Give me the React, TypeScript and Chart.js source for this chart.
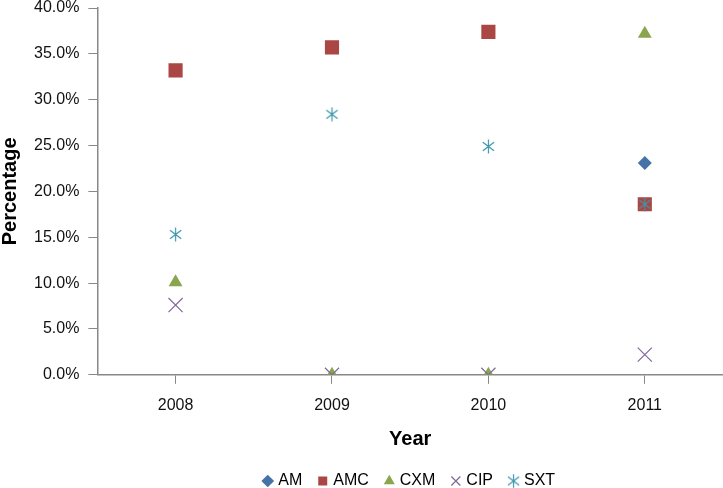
import React, { useEffect, useRef } from "react";
import { Chart, registerables } from "chart.js";

Chart.register(...registerables);

const years = ["2008", "2009", "2010", "2011"];
const seriesNames = ["AM", "AMC", "CXM", "CIP", "SXT"];
const am = [null, null, null, 23.1];
const amc = [33.2, 35.7, 37.4, 18.6];
const cxm = [10.1, 0, 0, 37.2];
const cip = [7.6, 0, 0, 2.2];
const sxt = [15.3, 28.4, 24.9, 18.6];
const yTicks = [0, 5, 10, 15, 20, 25, 30, 35, 40];

const colors = ["#4572A7", "#AA4643", "#89A54E", "#80699B", "#3D96AE"];
const styles = ["rectRot", "rect", "triangle", "crossRot", "asterisk"];
const radii = [7, 10, 8, 10, 7];

function makeAsterisk(color: string, size: number) {
  const c = document.createElement("canvas");
  c.width = size;
  c.height = size;
  const ctx = c.getContext("2d")!;
  const m = size / 2;
  const r = size / 2 - 0.5;
  ctx.strokeStyle = color;
  ctx.lineWidth = 1.2;
  ctx.beginPath();
  ctx.moveTo(m, m - r);
  ctx.lineTo(m, m + r);
  const d = r * 0.8;
  ctx.moveTo(m - d, m - d * 0.75);
  ctx.lineTo(m + d, m + d * 0.75);
  ctx.moveTo(m - d, m + d * 0.75);
  ctx.lineTo(m + d, m - d * 0.75);
  ctx.stroke();
  return c;
}

export default function App() {
  const ref = useRef<HTMLCanvasElement>(null);
  useEffect(() => {
    document.body.style.margin = "0";
    const values = [am, amc, cxm, cip, sxt];
    const font = "'Liberation Sans', Arial, sans-serif";
    const starBig = makeAsterisk(colors[4], 15);
    const chart = new Chart(ref.current!, {
      type: "line",
      data: {
        labels: years,
        datasets: seriesNames.map((name, i) => ({
          label: name,
          data: values[i],
          showLine: false,
          pointStyle: (styles[i] === "asterisk" ? starBig : styles[i]) as any,
          pointRadius: radii[i],
          pointHoverRadius: radii[i],
          pointBackgroundColor: colors[i],
          pointBorderColor: colors[i],
          backgroundColor: colors[i],
          borderColor: colors[i],
          pointBorderWidth: i >= 3 ? 1.2 : 0,
          borderWidth: i >= 3 ? 1.2 : 0,
          order: 5 - i,
        })),
      },
      options: {
        responsive: false,
        animation: false,
        devicePixelRatio: 1,
        layout: { autoPadding: false, padding: { top: 0, right: 0, left: -2, bottom: -11 } },
        plugins: {
          tooltip: { enabled: false },
          legend: {
            position: "bottom",
            fullSize: false,
            labels: {
              usePointStyle: true,
              boxHeight: 9,
              boxWidth: 5,
              padding: 18,
              color: "#000",
              font: { family: font, size: 16 },
              sort: (a: any, b: any) => a.datasetIndex - b.datasetIndex,
            },
          },
        },
        scales: {
          x: {
            type: "category",
            offset: true,
            afterFit: (s: any) => {
              s.paddingRight = 0;
              s.paddingLeft = 0;
            },
            grid: {
              offset: false,
              drawOnChartArea: false,
              drawTicks: true,
              tickLength: 9,
              color: "#888",
            },
            border: { display: true, color: "#888", width: 1.5 },
            ticks: { color: "#111", font: { family: font, size: 16 }, padding: 12 },
            title: {
              display: true,
              text: "Year",
              color: "#000",
              font: { family: font, size: 20, weight: "bold" },
              padding: { top: 0, bottom: 4 },
            },
          },
          y: {
            min: 0,
            max: 40,
            afterBuildTicks: (axis: any) => {
              axis.ticks = yTicks.map((v) => ({ value: v }));
            },
            afterFit: (s: any) => {
              s.paddingTop = 8;
            },
            grid: {
              drawOnChartArea: false,
              drawTicks: true,
              tickLength: 9,
              color: "#888",
            },
            border: { display: true, color: "#888", width: 1.5 },
            ticks: {
              color: "#111",
              font: { family: font, size: 16, lineHeight: 0.8 },
              padding: 9,
              callback: (v: any) => Number(v).toFixed(1) + "%",
            },
            title: {
              display: true,
              text: "Percentage",
              color: "#000",
              font: { family: font, size: 20, weight: "bold" },
              padding: { top: 0, bottom: 3 },
            },
          },
        },
      },
    });
    return () => chart.destroy();
  }, []);
  return <canvas ref={ref} width={723} height={488} />;
}
